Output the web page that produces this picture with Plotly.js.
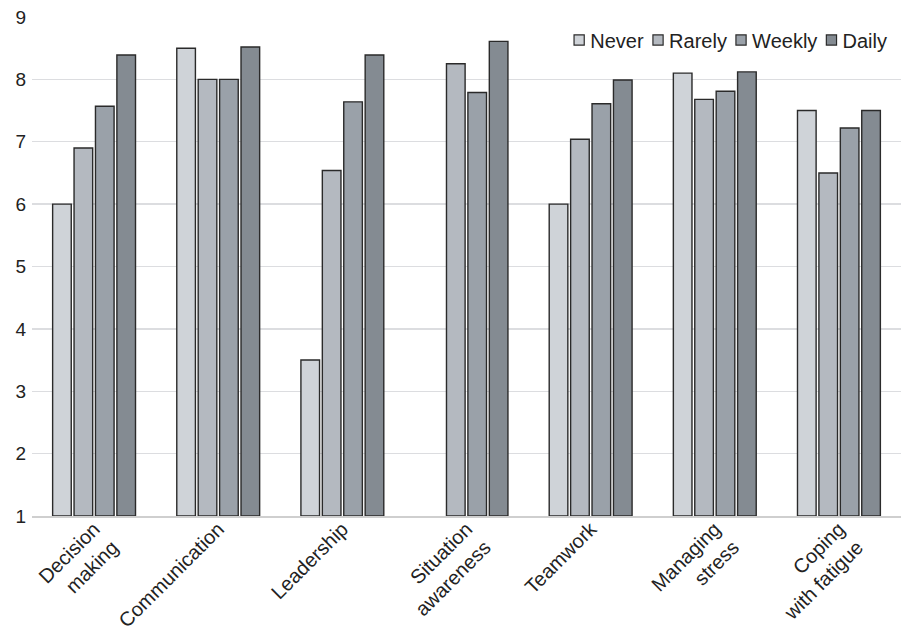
<!DOCTYPE html>
<html>
<head>
<meta charset="utf-8">
<script src="https://cdn.plot.ly/plotly-3.0.1.min.js"></script>
<style>html,body{margin:0;padding:0;background:#fff;}#chart{width:901px;height:633px;}</style>
</head>
<body>
<div id="chart"></div>
<script>
const categories = ["Decision<br>making", "Communication", "Leadership", "Situation<br>awareness", "Teamwork", "Managing<br>stress", "Coping<br>with fatigue"];
const seriesNames = ["Never", "Rarely", "Weekly", "Daily"];
const never  = [6.0, 8.5, 3.5, null, 6.0, 8.1, 7.5];
const rarely = [6.9, 8.0, 6.54, 8.25, 7.04, 7.68, 6.5];
const weekly = [7.57, 8.0, 7.64, 7.79, 7.61, 7.81, 7.22];
const daily  = [8.39, 8.52, 8.39, 8.61, 7.99, 8.12, 7.5];
const colors = ["#cfd3d8", "#b4b9c0", "#9aa1a9", "#848b92"];
const yTicks = [1, 2, 3, 4, 5, 6, 7, 8, 9];

const values = [never, rarely, weekly, daily];
const traces = values.map((v, i) => ({
  type: "bar",
  name: seriesNames[i],
  x: categories,
  y: v.map(d => d === null ? null : d - 1),
  base: 1,
  marker: {color: colors[i], line: {color: "#2a2a2a", width: 1.4}},
  hoverinfo: "skip"
}));

const layout = {
  width: 901, height: 633,
  margin: {l: 32, r: 0, t: 17, b: 117},
  paper_bgcolor: "#fff", plot_bgcolor: "#fff",
  font: {family: "Liberation Sans, Arial, sans-serif", size: 19, color: "#222"},
  barmode: "group",
  bargap: 0.31,
  bargroupgap: 0.13,
  xaxis: {
    tickangle: -45,
    tickfont: {size: 20, color: "#222"},
    showline: true, linecolor: "#cfcfcf", linewidth: 1.5,
    ticks: "", showgrid: false, ticklabelstandoff: -8
  },
  yaxis: {
    range: [1, 9],
    tickvals: yTicks,
    ticktext: yTicks.map(String),
    tickfont: {size: 19, color: "#222"},
    showgrid: true, gridcolor: "#dcdde0", gridwidth: 1.3,
    zeroline: false, showline: false, ticks: "", ticklabelstandoff: 5
  },
  legend: {
    orientation: "h", x: 0.995, xanchor: "right", y: 0.993, yanchor: "top",
    font: {size: 20, color: "#222"}, bgcolor: "rgba(0,0,0,0)",
    itemwidth: 30, traceorder: "normal"
  },
  showlegend: true
};

Plotly.newPlot("chart", traces, layout, {displayModeBar: false, staticPlot: true}).then(gd => {
  // compact legend: smaller symbol, small gap, label, small gap, next symbol; right aligned
  const items = Array.from(gd.querySelectorAll(".legend .traces"));
  items.forEach(g => {
    const p = g.querySelector(".legendpoints path");
    p.setAttribute("transform", (p.getAttribute("transform") || "") + " scale(0.85)");
  });
  const info = items.map(g => {
    const sym = g.querySelector(".legendpoints path");
    const txt = g.querySelector("text.legendtext");
    return {g, txt, s: sym.getBoundingClientRect(), t: txt.getBoundingClientRect()};
  });
  const symGap = 6, itemGap = 9, targetRight = 887;
  let total = 0;
  info.forEach((o, i) => { total += o.s.width + symGap + o.t.width + (i < info.length - 1 ? itemGap : 0); });
  let cur = targetRight - total;
  info.forEach(o => {
    const dx = cur - o.s.left;
    const m = /translate\(([-\d.]+)[ ,]+([-\d.]+)\)/.exec(o.g.getAttribute("transform") || "translate(0,0)");
    o.g.setAttribute("transform", "translate(" + (+m[1] + dx) + "," + m[2] + ")");
    cur += o.s.width + symGap;
    const dxt = cur - (o.t.left + dx);
    o.txt.setAttribute("x", +o.txt.getAttribute("x") + dxt);
    cur += o.t.width + itemGap;
  });
});
</script>
</body>
</html>
